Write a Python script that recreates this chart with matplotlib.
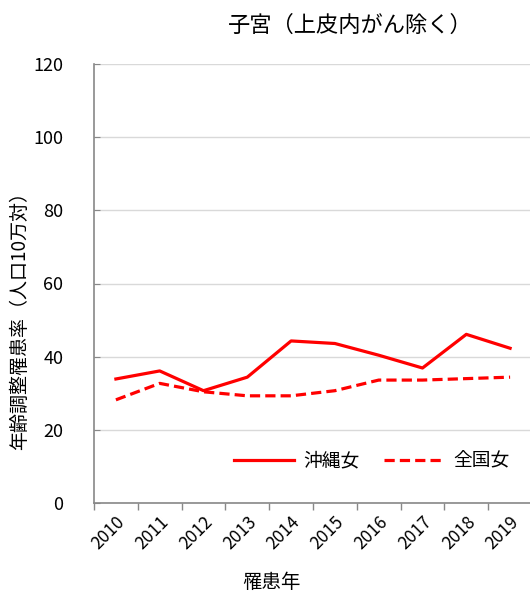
import matplotlib.pyplot as plt

plt.rcParams['font.family'] = ['Noto Sans CJK JP', 'DejaVu Sans']

years = ['2010', '2011', '2012', '2013', '2014', '2015', '2016', '2017', '2018', '2019']
okinawa = [33.9, 36.1, 30.7, 34.4, 44.3, 43.6, 40.4, 36.9, 46.1, 42.3]
zenkoku = [28.2, 32.7, 30.4, 29.3, 29.3, 30.7, 33.6, 33.6, 34.0, 34.4]
yticks = [0, 20, 40, 60, 80, 100, 120]

fig = plt.figure(figsize=(5.3, 5.92), dpi=100)
ax = fig.add_axes([94 / 530, 1 - 503 / 592, 438 / 530, 439 / 592])

x = range(len(years))
ax.plot(x, okinawa, color='#ff0000', lw=2.3, label='沖縄女')
ax.plot(x, zenkoku, color='#ff0000', lw=2.3, ls=(0, (3.2, 1.6)), label='全国女')

ax.set_xlim(-0.5, len(years) - 0.5)
ax.set_ylim(0, 120)
ax.set_yticks(yticks)
ax.set_yticklabels([str(v) for v in yticks], fontsize=13)
ax.yaxis.grid(True, color='#d9d9d9', lw=1)
ax.set_axisbelow(True)

# category labels at the centres, tick marks between categories
ax.set_xticks(list(x))
ax.set_xticklabels(years, rotation=45, ha='right', va='top',
                   rotation_mode='anchor', fontsize=12.5)
ax.tick_params(axis='x', length=0, pad=7)
ax.set_xticks([i - 0.5 for i in range(len(years) + 1)], minor=True)
ax.tick_params(axis='x', which='minor', length=5, color='#888888', width=1)
ax.tick_params(axis='y', length=4, direction='in', color='#888888', pad=22)

for s in ['top', 'right']:
    ax.spines[s].set_visible(False)
for s in ['left', 'bottom']:
    ax.spines[s].set_color('#888888')
    ax.spines[s].set_linewidth(1.2)

ax.legend(loc='center', bbox_to_anchor=(372 / 530, 1 - 461 / 592),
          bbox_transform=fig.transFigure, ncol=2, frameon=False,
          fontsize=13.5, handlelength=3.2, columnspacing=1.3, handletextpad=0.5)

fig.text(350 / 530, 1 - 25 / 592, '子宮（上皮内がん除く）', ha='center', va='center', fontsize=16)
fig.text(19 / 530, 1 - 316 / 592, '年齢調整罹患率（人口10万対）', rotation=90,
         ha='center', va='center', fontsize=13.7)
fig.text(271 / 530, 1 - 582 / 592, '罹患年', ha='center', va='center', fontsize=14)

fig.savefig('out.png', dpi=100)
